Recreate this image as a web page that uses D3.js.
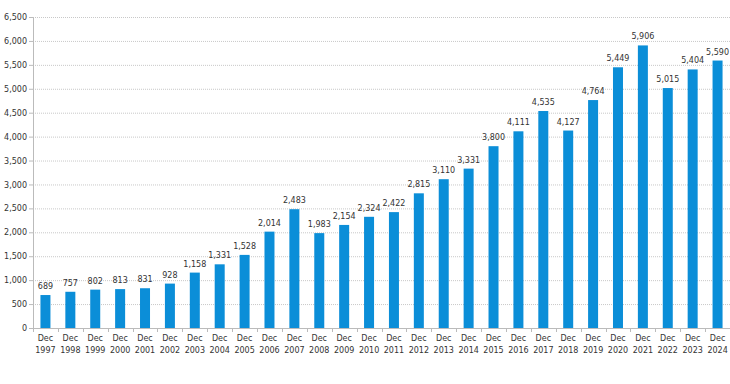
<!DOCTYPE html>
<meta charset="utf-8">
<style>
    body { margin: 0; background: #fff; }
    text { font-family: "DejaVu Sans", Verdana, sans-serif; font-size: 8px; fill: #333; }
    .grid line { stroke: #c8c8c8; stroke-dasharray: 1,1; }
</style>
<svg width="730" height="384"></svg>
<script src="https://cdn.jsdelivr.net/npm/d3@7"></script>
<script>
    var years = ['1997','1998','1999','2000','2001','2002','2003','2004','2005','2006',
        '2007','2008','2009','2010','2011','2012','2013','2014','2015','2016',
        '2017','2018','2019','2020','2021','2022','2023','2024'];
    var values = [689,757,802,813,831,928,1158,1331,1528,2014,
        2483,1983,2154,2324,2422,2815,3110,3331,3800,4111,
        4535,4127,4764,5449,5906,5015,5404,5590];
    var yTicks = d3.range(0, 6501, 500);

    var svg = d3.select('svg');
    var margin = { left: 33, top: 17, right: 0, bottom: 56 };
    var width = +svg.attr('width') - margin.left - margin.right;
    var height = +svg.attr('height') - margin.top - margin.bottom;
    var g = svg.append('g').attr('transform', `translate(${margin.left}, ${margin.top})`);

    var x = d3.scaleBand().domain(years).range([0, width]);
    var y = d3.scaleLinear().domain([0, 6500]).range([height, 0]);
    var fmt = d3.format(',');

    // gridlines
    g.append('g').attr('class', 'grid')
        .selectAll('line').data(yTicks.slice(1)).enter().append('line')
        .attr('x1', 0).attr('x2', width)
        .attr('y1', d => y(d) + 0.5).attr('y2', d => y(d) + 0.5);

    // y axis
    var yAxis = g.append('g')
        .call(d3.axisLeft(y).tickValues(yTicks).tickFormat(fmt).tickSize(4).tickPadding(2));
    yAxis.select('.domain').attr('stroke', '#bbb');
    yAxis.selectAll('.tick line').attr('stroke', '#bbb');
    yAxis.selectAll('text').style('font-size', '8px');

    // x axis
    var xAxis = g.append('g').attr('transform', `translate(0, ${height})`)
        .call(d3.axisBottom(x).tickSize(0).tickSizeOuter(0).tickPadding(7).tickFormat(''));
    xAxis.select('.domain').attr('stroke', '#bbb');
    xAxis.selectAll('.tick text').each(function (d) {
        var t = d3.select(this);
        t.append('tspan').attr('x', 0).attr('dy', '0.71em').text('Dec');
        t.append('tspan').attr('x', 0).attr('dy', '1.5em').text(d);
    });
    xAxis.selectAll('.sep').data(years).enter().append('line')
        .attr('class', 'sep')
        .attr('x1', d => Math.round(x(d)) + 0.5).attr('x2', d => Math.round(x(d)) + 0.5)
        .attr('y1', 0).attr('y2', 4).attr('stroke', '#bbb');

    // bars
    var bw = 10;
    g.selectAll('.bar').data(values).enter().append('rect')
        .attr('class', 'bar')
        .attr('x', (d, i) => x(years[i]) + x.bandwidth() / 2 - bw / 2)
        .attr('width', bw)
        .attr('y', d => y(d))
        .attr('height', d => height - y(d))
        .attr('fill', '#0b8ed8');

    // value labels
    g.selectAll('.lbl').data(values).enter().append('text')
        .attr('class', 'lbl')
        .attr('x', (d, i) => x(years[i]) + x.bandwidth() / 2)
        .attr('y', d => y(d) - 6)
        .attr('text-anchor', 'middle')
        .text(fmt);
</script>
